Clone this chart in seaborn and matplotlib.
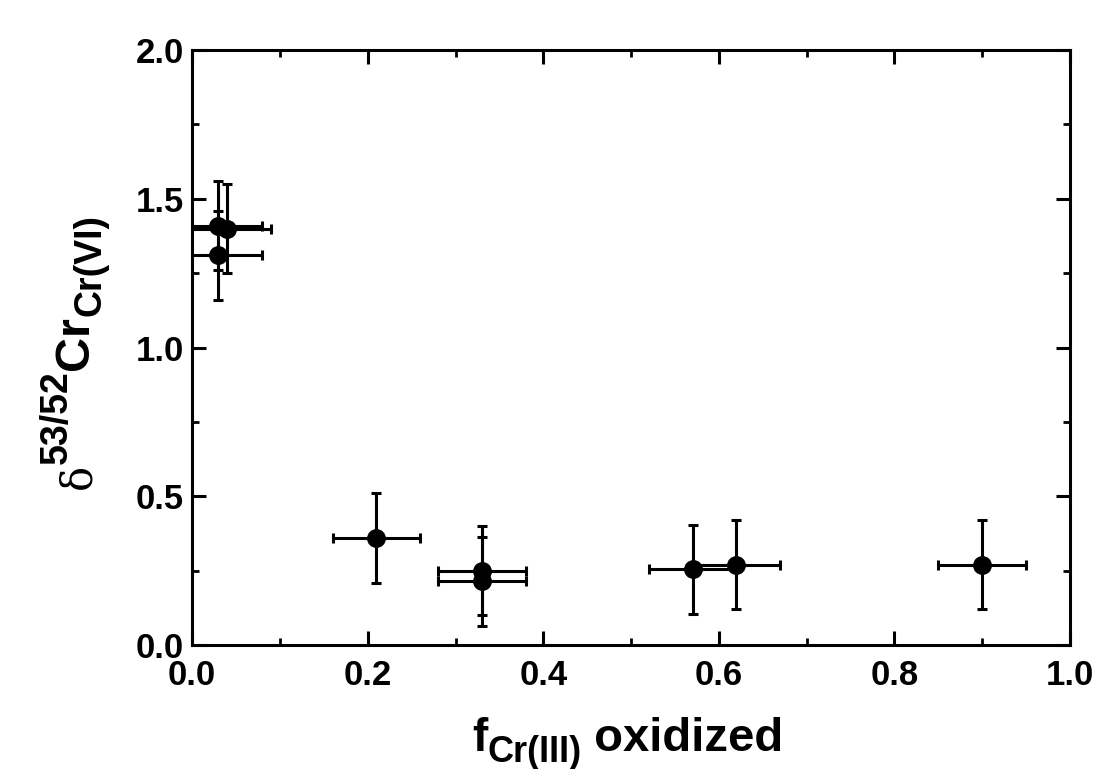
import numpy as np
import pandas as pd
import matplotlib
matplotlib.use("Agg")
import matplotlib.pyplot as plt
import matplotlib.transforms as mtransforms
import seaborn as sns
from matplotlib.ticker import MultipleLocator

f_oxidized = [0.03, 0.04, 0.03, 0.21, 0.33, 0.33, 0.57, 0.62, 0.90]
delta_cr = [1.41, 1.40, 1.31, 0.36, 0.25, 0.215, 0.255, 0.27, 0.27]
x_err = [0.05, 0.05, 0.05, 0.05, 0.05, 0.05, 0.05, 0.05, 0.05]
y_err = [0.15, 0.15, 0.15, 0.15, 0.15, 0.15, 0.15, 0.15, 0.15]
x_ticks = [0.0, 0.2, 0.4, 0.6, 0.8, 1.0]
y_ticks = [0.0, 0.5, 1.0, 1.5, 2.0]

df = pd.DataFrame({"f": f_oxidized, "d": delta_cr, "xe": x_err, "ye": y_err})

sns.set_style("ticks")
plt.rcParams['font.family'] = ['Liberation Sans', 'DejaVu Sans']
plt.rcParams['font.weight'] = 'bold'
for k in ['text.color', 'axes.labelcolor', 'xtick.color', 'ytick.color', 'axes.edgecolor']:
    plt.rcParams[k] = 'black'

fig = plt.figure(figsize=(10.98, 7.69), dpi=100)
ax = fig.add_axes([0.175, 0.161, 0.7995, 0.774])

ax.errorbar(df["f"], df["d"], xerr=df["xe"], yerr=df["ye"], fmt='none',
            ecolor='black', elinewidth=2.2, capsize=3.5, capthick=2.2, zorder=2)
sns.scatterplot(data=df, x="f", y="d", ax=ax, color='black', s=185,
                edgecolor='black', linewidth=0, zorder=3, legend=False)

ax.set_xlim(0, 1.0)
ax.set_ylim(0, 2.0)
ax.set_xticks(x_ticks)
ax.set_xticklabels([f"{v:.1f}" for v in x_ticks])
ax.set_yticks(y_ticks)
ax.set_yticklabels([f"{v:.1f}" for v in y_ticks])
ax.xaxis.set_minor_locator(MultipleLocator(0.1))
ax.yaxis.set_minor_locator(MultipleLocator(0.25))

ax.tick_params(which='major', direction='in', length=10, width=2.2,
               top=True, right=True, labelsize=25, colors='black')
ax.tick_params(axis='x', which='major', pad=10)
ax.tick_params(axis='y', which='major', pad=6)
ax.tick_params(which='minor', direction='in', length=5, width=2.0,
               top=True, right=True, colors='black')
for lab in ax.get_xticklabels() + ax.get_yticklabels():
    lab.set_fontweight('bold')
for sp in ax.spines.values():
    sp.set_linewidth(2.2)
    sp.set_color('black')
ax.set_xlabel("")
ax.set_ylabel("")

# composite axis labels built from pieces (pixel coordinates)
ident = mtransforms.IdentityTransform()
fig.canvas.draw()
renderer = fig.canvas.get_renderer()
H = fig.bbox.height


def chain(pieces, x0, y0, vertical):
    pos = 0.0
    for text, size, family, weight, shift in pieces:
        if vertical:
            x, y = x0 - shift, y0 + pos
            rot = 90
        else:
            x, y = x0 + pos, y0 + shift
            rot = 0
        t = fig.text(x, y, text, transform=ident, fontsize=size,
                     family=family, fontweight=weight, rotation=rot,
                     rotation_mode='anchor', ha='left', va='baseline',
                     color='black')
        bb = t.get_window_extent(renderer)
        pos += bb.height if vertical else bb.width


# x label
chain([("f", 33, ['Liberation Sans'], 'bold', 0),
       ("Cr(III)", 26, ['Liberation Sans'], 'bold', -11),
       (" oxidized", 34, ['Liberation Sans'], 'bold', 0)],
      472, H - 751, vertical=False)

# y label: reads bottom to top
chain([("δ", 30, ['DejaVu Serif'], 'normal', -2),
       ("53/52", 27, ['Liberation Sans'], 'bold', 21),
       ("Cr", 35, ['Liberation Sans'], 'bold', 0),
       ("Cr(VI)", 27, ['Liberation Sans'], 'bold', -12)],
      88, H - 489, vertical=True)

fig.savefig("out.png", dpi=100, facecolor='white')
